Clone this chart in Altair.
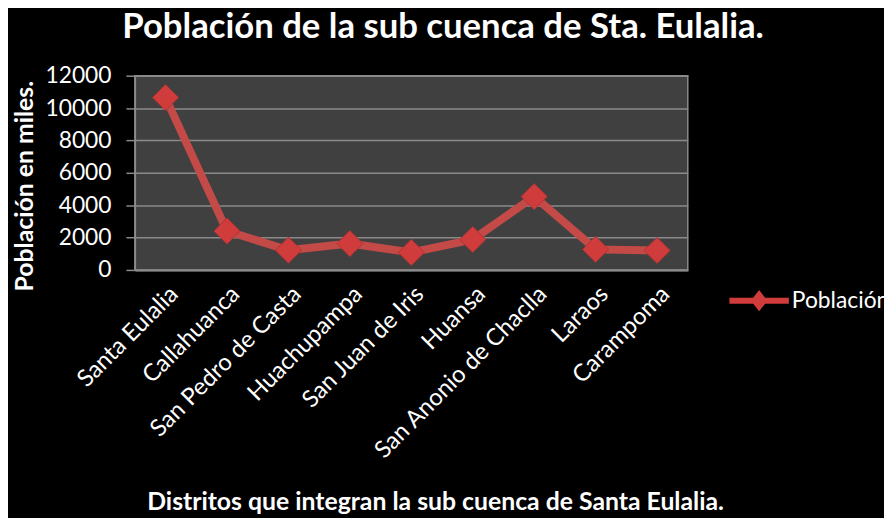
import altair as alt
import pandas as pd

distritos = ["Santa Eulalia", "Callahuanca", "San Pedro de Casta", "Huachupampa",
             "San Juan de Iris", "Huansa", "San Anonio de Chaclla", "Laraos", "Carampoma"]
poblacion = [10650, 2400, 1220, 1630, 1080, 1880, 4530, 1270, 1200]
serie = ["Población"] * len(distritos)
y_ticks = [0, 2000, 4000, 6000, 8000, 10000, 12000]

df = pd.DataFrame({"distrito": distritos, "poblacion": poblacion, "serie": serie})

FONT = "Lato"
RED_LINE = "#c44a48"
RED_PT = "#d03b3b"

x_enc = alt.X("distrito:N", sort=distritos,
              scale=alt.Scale(paddingInner=0, paddingOuter=0.5),
              axis=alt.Axis(title="Distritos que integran la sub cuenca de Santa Eulalia.",
                            labelAngle=-45, labelFontSize=24, labelColor="white",
                            labelFont=FONT, ticks=False, domainColor="#8a8a8a",
                            domainWidth=2, labelPadding=12, grid=False, labelLimit=500,
                            labelOverlap=False,
                            titleFont=FONT, titleFontSize=25, titleFontWeight="bold",
                            titleColor="white", titleX=303, titleY=242,
                            titleBaseline="alphabetic", titleAlign="center"))
y_enc = alt.Y("poblacion:Q", scale=alt.Scale(domain=[0, 12000], nice=False),
              axis=alt.Axis(title="Población en miles.", values=y_ticks, format="d",
                            labelFontSize=23, labelColor="white", labelFont=FONT,
                            tickColor="#8a8a8a", tickSize=9, tickWidth=1.5,
                            domainColor="#8a8a8a", domainWidth=1.5,
                            gridColor="#8a8a8a", gridWidth=1.5, labelPadding=15,
                            titleFont=FONT, titleFontSize=25, titleFontWeight="bold",
                            titleColor="white", titleX=-111, titleY=111,
                            titleBaseline="middle", titleAlign="center", titleAngle=270))

line = alt.Chart(df).mark_line(color=RED_LINE, strokeWidth=8).encode(x=x_enc, y=y_enc)

legend_path = "M-1,-0.1L1,-0.1L1,0.1L-1,0.1Z M0,-0.36L0.28,0L0,0.36L-0.28,0Z"

points = alt.Chart(df).mark_point(shape="diamond", filled=True, size=700, opacity=1,
                                   stroke="#a83030", strokeWidth=0.8).encode(
    x=x_enc, y=y_enc,
    color=alt.Color("serie:N", scale=alt.Scale(range=[RED_PT]),
                    legend=alt.Legend(title=None, orient="none", legendX=600, legendY=197,
                                      symbolType=legend_path, symbolSize=3600,
                                      symbolFillColor=RED_LINE, symbolStrokeWidth=0,
                                      labelFontSize=23, labelColor="white", labelFont=FONT,
                                      labelOffset=3, labelLimit=400)))

chart = alt.layer(line, points).properties(
    width=558, height=196,
    background="black",
    padding={"left": 128, "top": 66, "right": 198, "bottom": 248},
    autosize=alt.AutoSizeParams(type="none"),
    title=alt.TitleParams("Población de la sub cuenca de Sta. Eulalia.", font=FONT,
                          fontSize=35, fontWeight="bold", color="white", anchor="middle",
                          offset=20, dx=32),
).configure_view(fill="#404040", stroke="#8a8a8a", strokeWidth=1.5)

chart.save("out.html", embed_options={"renderer": "svg", "actions": False})
